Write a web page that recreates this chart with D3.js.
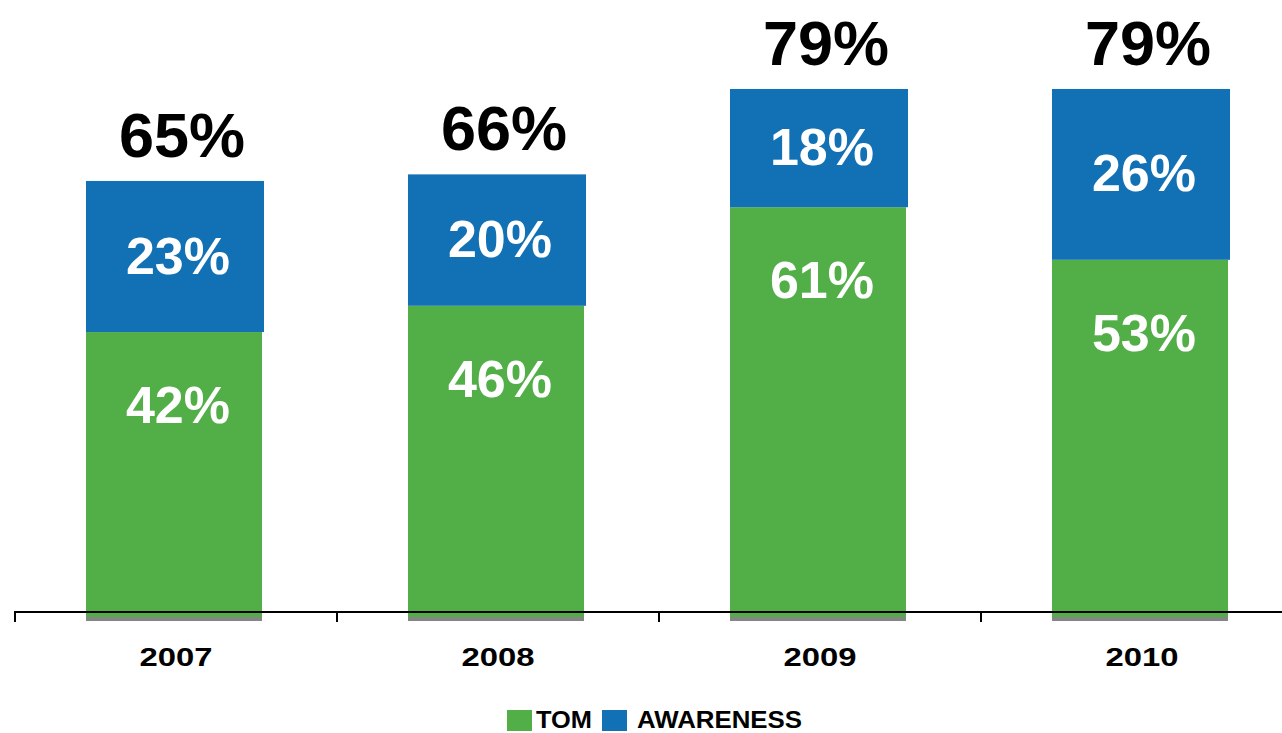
<!DOCTYPE html>
<html>
<head>
<meta charset="utf-8">
<script src="https://cdn.jsdelivr.net/npm/d3@7"></script>
<style>
  html, body { margin: 0; padding: 0; background: #ffffff; }
  svg { display: block; }
  text { font-family: "Liberation Sans", Arial, sans-serif; font-weight: bold; }
</style>
</head>
<body>
<svg id="chart" width="1282" height="733"></svg>
<script>
// Survey results per year: top-of-mind and total awareness shares
const years = ["2007", "2008", "2009", "2010"];
const tom = [42, 46, 61, 53];
const awareness = [23, 20, 18, 26];
const totals = [65, 66, 79, 79];
const seriesNames = ["TOM", "AWARENESS"];

const colors = { TOM: "#52ae47", AWARENESS: "#1270b5" };

const svg = d3.select("#chart");
const W = 1282, H = 733;

const x = d3.scaleBand()
  .domain(years)
  .range([15, 1303])
  .paddingInner(0.4534)
  .paddingOuter(0.2267);

const y = d3.scaleLinear().domain([0, 100]).range([608, -49]);

const base = y(0);
const step = x.step();

// stacked layout
const rows = years.map((yr, i) => ({ year: yr, TOM: tom[i], AWARENESS: awareness[i], total: totals[i] }));
const stack = d3.stack().keys(seriesNames)(rows);

// bars (slightly extend below the axis with a grey foot)
const g = svg.append("g");
stack.forEach(layer => {
  g.selectAll(null)
    .data(layer)
    .enter()
    .append("rect")
    .attr("x", d => x(d.data.year) - 2)
    .attr("width", x.bandwidth() + (layer.key === "AWARENESS" ? 2 : 0))
    .attr("y", d => y(d[1]))
    .attr("height", d => (layer.key === "TOM" ? base + 9 : y(d[0])) - y(d[1]))
    .attr("fill", colors[layer.key]);
});

g.selectAll(".foot")
  .data(rows)
  .enter()
  .append("rect")
  .attr("class", "foot")
  .attr("x", d => x(d.year) - 2)
  .attr("width", x.bandwidth())
  .attr("y", base + 9)
  .attr("height", 4)
  .attr("fill", "#858585");

// axis line with category separators
const axisY = base + 4;
svg.append("line")
  .attr("x1", x.range()[0] - 1).attr("x2", W)
  .attr("y1", axisY).attr("y2", axisY)
  .attr("stroke", "#000").attr("stroke-width", 2);

const tickXs = years.map(yr => x(yr) - step * x.paddingInner() / 2);
svg.selectAll(".tick")
  .data(tickXs)
  .enter()
  .append("line")
  .attr("x1", d => d).attr("x2", d => d)
  .attr("y1", axisY).attr("y2", axisY + 10)
  .attr("stroke", "#000").attr("stroke-width", 2);

// year labels
svg.selectAll(".year")
  .data(years)
  .enter()
  .append("text")
  .attr("x", d => x(d) + x.bandwidth() / 2)
  .attr("y", 666)
  .attr("text-anchor", "middle")
  .attr("font-size", 26)
  .attr("textLength", 73)
  .attr("lengthAdjust", "spacingAndGlyphs")
  .attr("fill", "#000")
  .text(d => d);

// value labels inside the segments
svg.selectAll(".lblTom")
  .data(rows)
  .enter()
  .append("text")
  .attr("x", d => x(d.year) + x.bandwidth() / 2 + 2)
  .attr("y", d => y(d.TOM) + 91)
  .attr("text-anchor", "middle")
  .attr("font-size", 52)
  .attr("fill", "#ffffff")
  .text(d => d.TOM + "%");

svg.selectAll(".lblAw")
  .data(rows)
  .enter()
  .append("text")
  .attr("x", d => x(d.year) + x.bandwidth() / 2 + 2)
  .attr("y", d => (y(d.TOM) + y(d.TOM + d.AWARENESS)) / 2 + 17)
  .attr("text-anchor", "middle")
  .attr("font-size", 52)
  .attr("fill", "#ffffff")
  .text(d => d.AWARENESS + "%");

// totals above each bar
svg.selectAll(".lblTotal")
  .data(rows)
  .enter()
  .append("text")
  .attr("x", d => x(d.year) + x.bandwidth() / 2 + 6)
  .attr("y", d => y(d.TOM + d.AWARENESS) - 24)
  .attr("text-anchor", "middle")
  .attr("font-size", 63)
  .attr("fill", "#000")
  .text(d => d.total + "%");

// legend
const legend = svg.append("g");
const legendItems = [
  { key: "TOM", sx: 507, tx: 536, len: 56 },
  { key: "AWARENESS", sx: 602, tx: 637, len: 165 }
];
legendItems.forEach(it => {
  legend.append("rect")
    .attr("x", it.sx).attr("y", 710)
    .attr("width", 25).attr("height", 21)
    .attr("fill", colors[it.key]);
  legend.append("text")
    .attr("x", it.tx).attr("y", 728)
    .attr("font-size", 23)
    .attr("textLength", it.len)
    .attr("lengthAdjust", "spacingAndGlyphs")
    .attr("fill", "#000")
    .text(it.key);
});
</script>
</body>
</html>
